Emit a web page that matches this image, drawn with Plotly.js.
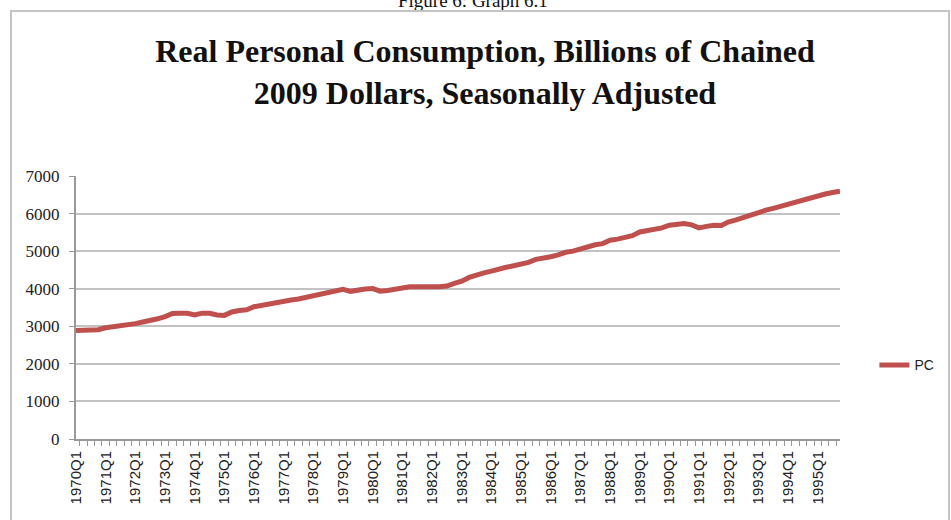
<!DOCTYPE html>
<html>
<head>
<meta charset="utf-8">
<script src="https://cdn.plot.ly/plotly-3.0.1.min.js"></script>
<style>
  html, body { margin: 0; padding: 0; background: #fff; overflow: hidden; }
  #wrap { position: relative; width: 951px; height: 520px; }
  #chart { position: absolute; left: 0; top: 0; width: 951px; height: 520px; }
  #frame { position: absolute; left: 10px; top: 10px; width: 936px; height: 530px;
           border: 2px solid #c4c4c4; pointer-events: none; }
</style>
</head>
<body>
<div id="wrap">
  <div id="chart"></div>
  <div id="frame"></div>
</div>
<script>
// Quarters 1970Q1 .. 1995Q4
const years = [1970,1971,1972,1973,1974,1975,1976,1977,1978,1979,1980,1981,1982,
               1983,1984,1985,1986,1987,1988,1989,1990,1991,1992,1993,1994,1995];
const quarterNames = ["Q1","Q2","Q3","Q4"];

// Real personal consumption, billions of chained 2009 dollars
const pc1970s = [
  2890, 2905, 2920, 2910,   // 1970
  2960, 2985, 3000, 3030,   // 1971
  3070, 3115, 3150, 3200,   // 1972
  3260, 3340, 3350, 3345,   // 1973
  3300, 3350, 3345, 3300,   // 1974
  3290, 3380, 3420, 3440,   // 1975
  3520, 3560, 3585, 3620,   // 1976
  3680, 3700, 3725, 3770,   // 1977
  3800, 3870, 3890, 3940,   // 1978
  3985, 3930, 3970, 3990    // 1979
];
const pc1980s = [
  4005, 3935, 3950, 3990,   // 1980
  4040, 4050, 4055, 4040,   // 1981
  4050, 4055, 4070, 4140,   // 1982
  4200, 4300, 4370, 4420,   // 1983
  4470, 4530, 4570, 4610,   // 1984
  4650, 4700, 4780, 4800,   // 1985
  4850, 4900, 4970, 5000,   // 1986
  5060, 5110, 5170, 5200,   // 1987
  5290, 5320, 5370, 5410,   // 1988
  5510, 5540, 5590, 5620    // 1989
];
const pc1990s = [
  5690, 5705, 5735, 5700,   // 1990
  5620, 5660, 5690, 5685,   // 1991
  5780, 5830, 5900, 5970,   // 1992
  6046, 6090, 6140, 6195,   // 1993
  6266, 6310, 6360, 6420,   // 1994
  6490, 6520, 6560, 6596    // 1995
];
const pcValues = pc1970s.concat(pc1980s, pc1990s);

const categories = [];
years.forEach(y => quarterNames.forEach(q => categories.push(y + q)));
const tickLabels = categories.map(c => c.endsWith("Q1") ? c : "");

const yTicks = [0, 1000, 2000, 3000, 4000, 5000, 6000, 7000];

const trace = {
  type: "scatter",
  mode: "lines",
  name: "PC",
  x: categories,
  y: pcValues,
  line: { color: "#c0504d", width: 5 },
  hoverinfo: "x+y"
};

const layout = {
  width: 951,
  height: 520,
  margin: { l: 76, r: 108, t: 176, b: 81, pad: 0 },
  paper_bgcolor: "#ffffff",
  plot_bgcolor: "#ffffff",
  showlegend: true,
  title: {
    text: "<b>Real Personal Consumption, Billions of Chained<br>2009 Dollars, Seasonally Adjusted</b>",
    font: { family: "Liberation Serif, Times New Roman, serif", size: 32, color: "#111111" },
    x: 0.51, xref: "container", xanchor: "center",
    y: 0.88, yref: "container", yanchor: "middle"
  },
  xaxis: {
    type: "category",
    tickmode: "array",
    tickvals: categories,
    ticktext: tickLabels,
    tickson: "boundaries",
    ticks: "outside",
    ticklen: 5,
    tickcolor: "#999999",
    tickwidth: 1,
    tickangle: -90,
    ticklabelstandoff: 4,
    tickfont: { family: "Liberation Sans, Arial, sans-serif", size: 15, color: "#222222" },
    showline: true,
    linecolor: "#999999",
    linewidth: 2,
    showgrid: false,
    zeroline: false,
    fixedrange: true
  },
  yaxis: {
    range: [0, 7000],
    tickmode: "array",
    tickvals: yTicks,
    ticktext: yTicks.map(String),
    ticks: "outside",
    ticklen: 5,
    tickcolor: "#999999",
    tickwidth: 1,
    tickfont: { family: "Liberation Serif, Times New Roman, serif", size: 17, color: "#222222" },
    ticklabelstandoff: 6,
    showline: true,
    linecolor: "#999999",
    linewidth: 2,
    showgrid: true,
    gridcolor: "#c2c2c2",
    gridwidth: 2,
    zeroline: false,
    fixedrange: true
  },
  legend: {
    x: 1.045, xref: "paper", xanchor: "left",
    y: 0.28, yref: "paper", yanchor: "middle",
    font: { family: "Liberation Sans, Arial, sans-serif", size: 14, color: "#222222" },
    bgcolor: "rgba(0,0,0,0)",
    itemwidth: 30
  },
  annotations: [{
    text: "Figure 6: Graph 6.1",
    xref: "paper", yref: "paper",
    x: 0.52, y: 1.668,
    xanchor: "center", yanchor: "middle",
    showarrow: false,
    font: { family: "Liberation Serif, Times New Roman, serif", size: 19, color: "#111111" }
  }]
};

Plotly.newPlot("chart", [trace], layout, { displayModeBar: false, staticPlot: true });
</script>
</body>
</html>
